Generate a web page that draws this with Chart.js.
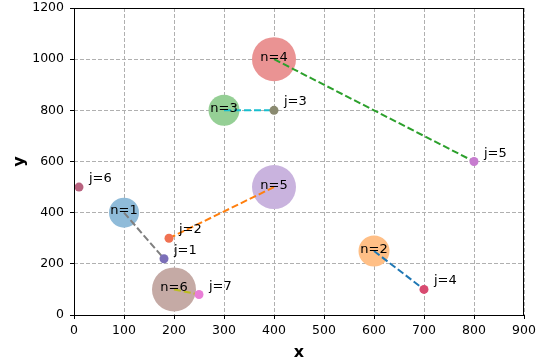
<!DOCTYPE html>
<html>
<head>
<meta charset="utf-8">
<script src="https://cdn.jsdelivr.net/npm/chart.js@4"></script>
<style>
  html, body { margin: 0; padding: 0; background: #fff; }
  #wrap { width: 546px; height: 364px; }
</style>
</head>
<body>
<div id="wrap"><canvas id="c" width="546" height="364"></canvas></div>
<script>
// data

const bigLabels = ['n=1', 'n=2', 'n=3', 'n=4', 'n=5', 'n=6'];
const bigX = [100, 600, 300, 400, 400, 200];
const bigY = [400, 250, 800, 1000, 500, 100];

const smallLabels = ['j=1', 'j=2', 'j=3', 'j=4', 'j=5', 'j=6', 'j=7'];
const smallX = [180, 190, 400, 700, 800, 10, 250];
const smallY = [220, 300, 800, 100, 600, 500, 80];

// which big circle connects to which small point
const linkFrom = [0, 4, 2, 3, 1, 5];
const linkTo = [0, 1, 2, 4, 3, 6];

const xTicks = [0, 100, 200, 300, 400, 500, 600, 700, 800, 900];
const yTicks = [0, 200, 400, 600, 800, 1000, 1200];

// styles

const bigRadius = [15, 15.5, 15.5, 22, 22, 22];
const bigColors = ['#8fbbd9', '#ffbf86', '#95cf95', '#ea9393', '#c9b3de', '#c5aaa5'];
const smallColors = ['#7b6fb8', '#f07252', '#8a8a70', '#d84a70', '#c77ccf', '#b8627f', '#e97ed6'];
const linkColors = ['#7f7f7f', '#ff7f0e', '#17becf', '#2ca02c', '#1f77b4', '#bcbd22'];

const FONT = 'DejaVu Sans';

const datasets = [];

datasets.push({
  type: 'scatter',
  order: 3,
  data: bigX.map((x, i) => ({ x: x, y: bigY[i] })),
  pointRadius: bigRadius,
  pointBackgroundColor: bigColors,
  pointBorderWidth: 0,
  pointBorderColor: 'rgba(0,0,0,0)'
});

linkFrom.forEach((a, k) => {
  const b = linkTo[k];
  datasets.push({
    type: 'line',
    order: 2,
    data: [{ x: bigX[a], y: bigY[a] }, { x: smallX[b], y: smallY[b] }],
    borderColor: linkColors[k],
    borderWidth: 2,
    borderDash: [7, 3],
    pointRadius: 0,
    fill: false
  });
});

datasets.push({
  type: 'scatter',
  order: 1,
  data: smallX.map((x, i) => ({ x: x, y: smallY[i] })),
  pointRadius: 4.5,
  pointBackgroundColor: smallColors,
  pointBorderWidth: 0,
  pointBorderColor: 'rgba(0,0,0,0)'
});

// text labels and the black frame
const annotate = {
  id: 'annotate',
  afterDatasetsDraw(chart) {
    const ctx = chart.ctx;
    const xs = chart.scales.x, ys = chart.scales.y;
    ctx.save();
    ctx.fillStyle = '#000';
    ctx.font = '13px "' + FONT + '"';
    ctx.textBaseline = 'alphabetic';

    ctx.textAlign = 'center';
    bigLabels.forEach((t, i) => {
      ctx.fillText(t, xs.getPixelForValue(bigX[i]), ys.getPixelForValue(bigY[i]) + 1.5);
    });

    ctx.textAlign = 'left';
    smallLabels.forEach((t, i) => {
      ctx.fillText(t, xs.getPixelForValue(smallX[i]) + 10, ys.getPixelForValue(smallY[i]) - 5);
    });

    const a = chart.chartArea;
    ctx.strokeStyle = '#000';
    ctx.lineWidth = 1;
    ctx.strokeRect(Math.round(a.left) + 0.5, Math.round(a.top) + 0.5,
      Math.round(a.right - a.left) - 1, Math.round(a.bottom - a.top));
    ctx.restore();
  }
};

const tickFont = { family: FONT, size: 12.5 };
const titleFont = { family: FONT, size: 16, weight: 'bold', lineHeight: 1.2 };

function noPad(s) {
  s.paddingTop = 0; s.paddingBottom = 0; s.paddingLeft = 0; s.paddingRight = 0;
}

new Chart(document.getElementById('c'), {
  type: 'scatter',
  data: { datasets: datasets },
  options: {
    responsive: false,
    animation: false,
    events: [],
    layout: { autoPadding: false, padding: { left: 0, right: 22, top: 8, bottom: 0 } },
    plugins: { legend: { display: false }, tooltip: { enabled: false } },
    scales: {
      x: {
        type: 'linear',
        min: 0, max: 900,
        afterBuildTicks: s => { s.ticks = xTicks.map(v => ({ value: v })); },
        afterFit: s => { s.height = 49; noPad(s); },
        ticks: { font: tickFont, color: '#000', padding: 4, maxRotation: 0, callback: v => String(v) },
        grid: { color: '#b0b0b0', lineWidth: 1, tickLength: 4, tickColor: '#000', tickBorderDash: [] },
        border: { display: false, dash: [4, 2] },
        title: { display: true, text: 'x', font: titleFont, color: '#000', padding: { top: 0, bottom: 2 } }
      },
      y: {
        type: 'linear',
        min: 0, max: 1200,
        afterBuildTicks: s => { s.ticks = yTicks.map(v => ({ value: v })); },
        afterFit: s => { s.width = 74; noPad(s); },
        ticks: { font: tickFont, color: '#000', padding: 6, callback: v => String(v) },
        grid: { color: '#b0b0b0', lineWidth: 1, tickLength: 4, tickColor: '#000', tickBorderDash: [] },
        border: { display: false, dash: [4, 2] },
        title: { display: true, text: 'y', font: titleFont, color: '#000', padding: { top: 10, bottom: 0 } }
      }
    }
  },
  plugins: [annotate]
});
</script>
</body>
</html>
